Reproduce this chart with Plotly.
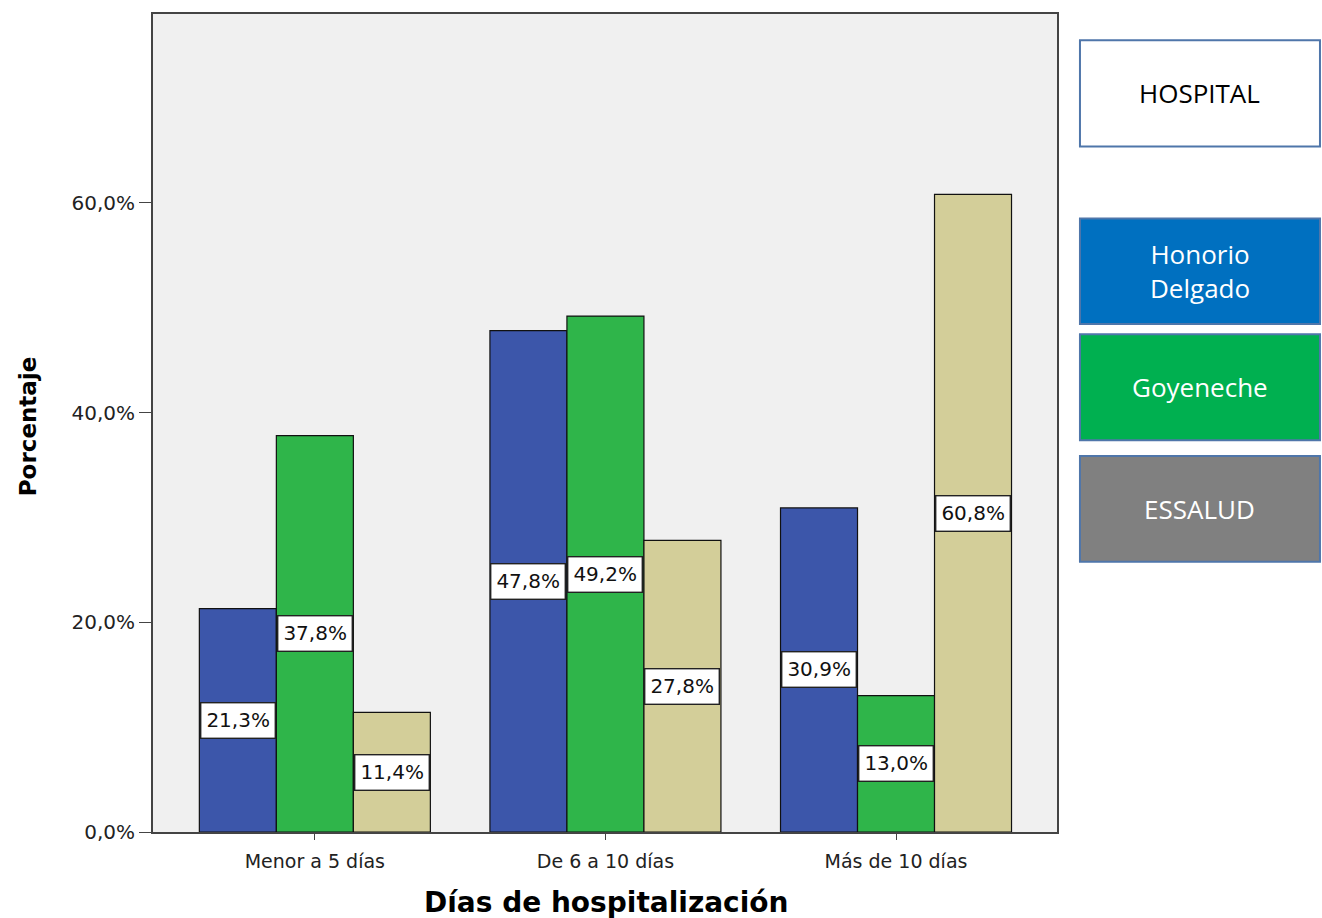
import plotly.graph_objects as go

categories = ["Menor a 5 días", "De 6 a 10 días", "Más de 10 días"]
honorio = [21.3, 47.8, 30.9]
goyeneche = [37.8, 49.2, 13.0]
essalud = [11.4, 27.8, 60.8]
y_ticks = [0, 20, 40, 60]

BLUE = "#3C56AA"
GREEN = "#2FB54A"
TAN = "#D3CE99"
FONT = "DejaVu Sans, Verdana, sans-serif"
BOX_FONT = "Open Sans, Lato, sans-serif"

series = [("Honorio Delgado", honorio, BLUE),
          ("Goyeneche", goyeneche, GREEN),
          ("ESSALUD", essalud, TAN)]

fig = go.Figure()
for name, vals, color in series:
    fig.add_trace(go.Bar(
        x=categories, y=vals, name=name,
        marker=dict(color=color, line=dict(color="#111111", width=1.2)),
    ))

# value labels in white boxes at half bar height
bar_w = 0.795 / 3
annotations = []
for j, (name, vals, color) in enumerate(series):
    for i, v in enumerate(vals):
        annotations.append(dict(
            x=i + (j - 1) * bar_w, y=v / 2, xref="x", yref="y",
            text=f"{v:.1f}%".replace(".", ","), showarrow=False,
            font=dict(family=FONT, size=20, color="#111111"),
            bgcolor="white", bordercolor="#222222", borderwidth=1.4, borderpad=5,
        ))

# axis titles
annotations.append(dict(x=0.501, y=-0.0866, xref="paper", yref="paper",
                        xanchor="center", yanchor="middle", showarrow=False,
                        text="<b>Días de hospitalización</b>",
                        font=dict(family=FONT, size=28, color="black")))
annotations.append(dict(x=-0.1383, y=0.496, xref="paper", yref="paper",
                        xanchor="center", yanchor="middle", showarrow=False, textangle=-90,
                        text="<b>Porcentaje</b>",
                        font=dict(family=FONT, size=23, color="black")))

# legend-like boxes on the right
boxes = [
    ("HOSPITAL", 0.968, 0.838, "white", "black"),
    ("Honorio<br>Delgado", 0.750, 0.621, "#0070C0", "white"),
    ("Goyeneche", 0.6085, 0.479, "#00B050", "white"),
    ("ESSALUD", 0.4598, 0.3305, "#808080", "white"),
]
shapes = []
for text, y1, y0, fill, fc in boxes:
    shapes.append(dict(type="rect", xref="paper", yref="paper",
                       x0=1.0254, x1=1.2909, y0=y0, y1=y1,
                       fillcolor=fill, line=dict(color="#4F76AA", width=2)))
    annotations.append(dict(x=(1.0254 + 1.2909) / 2, y=(y0 + y1) / 2,
                            xref="paper", yref="paper", xanchor="center", yanchor="middle",
                            text=text, showarrow=False,
                            font=dict(family=BOX_FONT, size=26, color=fc)))

fig.update_layout(
    width=1322, height=918,
    margin=dict(l=153, r=265, t=12, b=86),
    paper_bgcolor="white", plot_bgcolor="#F0F0F0",
    barmode="group", bargap=0.205, bargroupgap=0,
    showlegend=False,
    font=dict(family=FONT, color="#222222"),
    annotations=annotations, shapes=shapes,
)
fig.update_xaxes(
    type="category", range=[-0.557, 2.554],
    showline=True, linecolor="#444444", linewidth=2, mirror=True,
    ticks="outside", ticklen=6, tickcolor="#444444", ticklabelstandoff=5,
    tickfont=dict(family=FONT, size=19, color="#222222"),
    showgrid=False,
)
fig.update_yaxes(
    range=[0, 78], tickvals=y_ticks,
    ticktext=[f"{t:.1f}%".replace(".", ",") for t in y_ticks],
    showline=True, linecolor="#444444", linewidth=2, mirror=True,
    ticks="outside", ticklen=12, tickcolor="#444444",
    tickfont=dict(family=FONT, size=20, color="#222222"),
    showgrid=False, zeroline=False,
)

fig.write_html("out.html", config={"displayModeBar": False},
               post_script="document.body.style.margin='0';")
